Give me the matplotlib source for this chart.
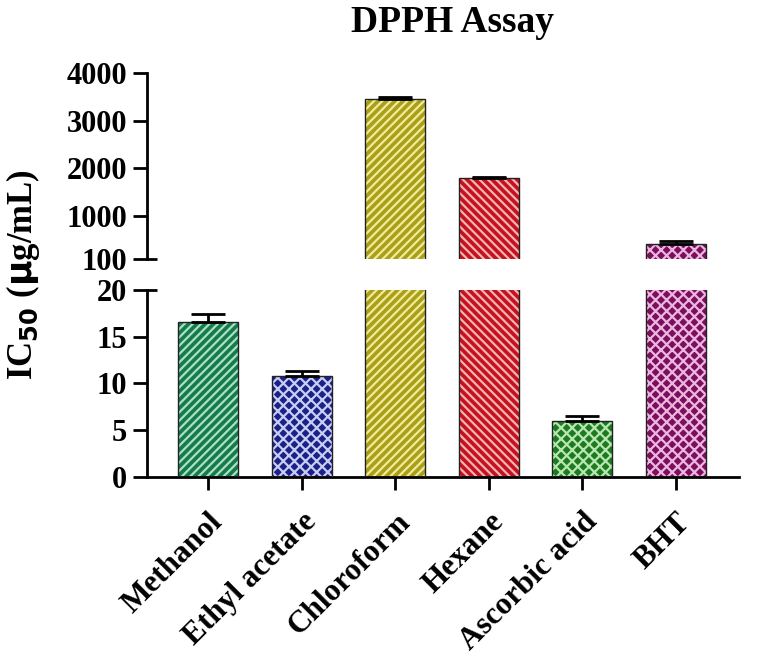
"""DPPH assay IC50 bar chart with a broken y axis."""

import matplotlib

matplotlib.use("Agg")
import matplotlib.pyplot as plt
import numpy as np

plt.rcParams["font.family"] = ["Liberation Serif", "DejaVu Serif"]
plt.rcParams["font.weight"] = "bold"
plt.rcParams["hatch.linewidth"] = 1.6

categories = ["Methanol", "Ethyl acetate", "Chloroform", "Hexane", "Ascorbic acid", "BHT"]
ic50 = [16.6, 10.8, 3450, 1790, 6.0, 410]
errors = [0.8, 0.5, 40, 30, 0.5, 60]
dark_colors = ["#157a4c", "#1b2188", "#a9a019", "#c4121f", "#1d7a22", "#7b0f5e"]
light_colors = ["#a9e0c4", "#c8cdf2", "#f2ea9a", "#f6b3b3", "#b8e6b0", "#ecb6df"]
hatches = ["////", "xxx", "////", "\\\\\\\\", "xxx", "xxx"]

upper_ticks = [100, 1000, 2000, 3000, 4000]
lower_ticks = [0, 5, 10, 15, 20]

fig = plt.figure(figsize=(7.6, 6.62), dpi=100)
ax_top = fig.add_axes([0.193, 0.609, 0.78, 0.281])
ax_low = fig.add_axes([0.193, 0.2795, 0.78, 0.2825])

x = np.arange(len(categories))
width = 0.64

for ax in (ax_top, ax_low):
    ax.bar(x, ic50, width=width, color=dark_colors, edgecolor=light_colors,
           hatch=hatches, linewidth=0, zorder=2)
    ax.bar(x, ic50, width=width, fill=False, edgecolor="#222222",
           linewidth=1.0, zorder=3)
    for xi, v, e in zip(x, ic50, errors):
        ax.errorbar(xi, v, yerr=[[0], [e]], fmt="none", ecolor="black",
                    elinewidth=2, capsize=12, capthick=2, zorder=4)
    ax.set_xlim(-0.66, 5.68)
    for side in ("top", "right"):
        ax.spines[side].set_visible(False)
    ax.spines["left"].set_linewidth(2)
    ax.tick_params(axis="y", direction="out", length=10, width=2, labelsize=22, pad=4)

ax_top.set_ylim(100, 4000)
ax_top.set_yticks(upper_ticks)
ax_top.spines["bottom"].set_visible(False)
ax_top.tick_params(axis="x", bottom=False, labelbottom=False)

ax_low.set_ylim(0, 20)
ax_low.set_yticks(lower_ticks)
ax_low.spines["bottom"].set_linewidth(2)
ax_low.set_xticks(x)
ax_low.set_xticklabels(categories, rotation=45, ha="right", rotation_mode="anchor",
                       fontsize=22.5, fontweight="bold")
ax_low.tick_params(axis="x", direction="out", length=9, width=2, pad=13)

# break marks at the bottom of the upper axis and the top of the lower axis
stub = 0.018
ax_top.plot([0, stub], [0, 0], transform=ax_top.transAxes, color="black",
            linewidth=2, clip_on=False, solid_capstyle="butt")
ax_low.plot([0, stub], [1, 1], transform=ax_low.transAxes, color="black",
            linewidth=2, clip_on=False, solid_capstyle="butt")

fig.text(0.595, 0.966, "DPPH Assay", ha="center", va="center",
         fontsize=27, fontweight="bold")
fig.text(0.03, 0.585, r"IC$_{\mathbf{50}}$ ($\mathbf{\mu}$g/mL)", rotation=90,
         ha="center", va="center", fontsize=25, fontweight="bold")

fig.savefig("out.png", dpi=100)
